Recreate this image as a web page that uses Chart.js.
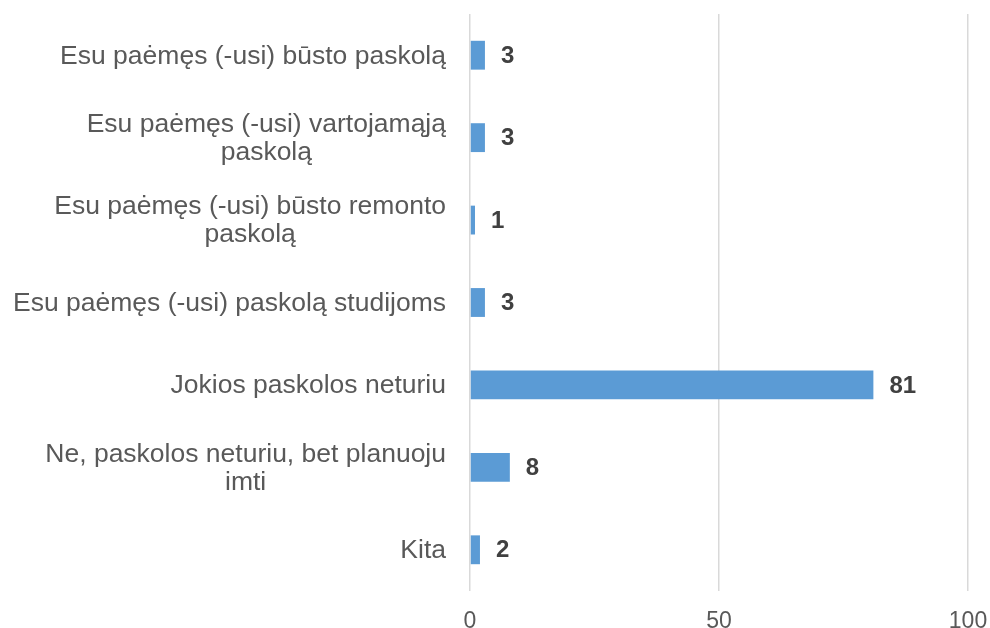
<!DOCTYPE html>
<html>
<head>
<meta charset="utf-8">
<script src="https://cdn.jsdelivr.net/npm/chart.js@4/dist/chart.umd.min.js"></script>
<style>
  html, body { margin: 0; padding: 0; background: #fff; }
  #wrap { width: 990px; height: 628px; }
</style>
</head>
<body>
<div id="wrap"><canvas id="loansChart"></canvas></div>
<script>
// answer categories, each one split into its printed lines
const categories = [
  ['Esu paėmęs (-usi) būsto paskolą'],
  ['Esu paėmęs (-usi) vartojamąją', 'paskolą'],
  ['Esu paėmęs (-usi) būsto remonto', 'paskolą'],
  ['Esu paėmęs (-usi) paskolą studijoms'],
  ['Jokios paskolos neturiu'],
  ['Ne, paskolos neturiu, bet planuoju', 'imti'],
  ['Kita']
];
const shares = [3, 3, 1, 3, 81, 8, 2];
const xTicks = [0, 50, 100];

const labelFont = '26.5px "Liberation Sans", Arial, sans-serif';
const valueFont = 'bold 24px "Liberation Sans", Arial, sans-serif';

// category names: right-aligned block, lines centred inside each block
const categoryLabels = {
  id: 'categoryLabels',
  afterDraw(chart) {
    const ctx = chart.ctx;
    const yScale = chart.scales.y;
    const right = chart.chartArea.left - 24;
    const lineH = 28;
    ctx.save();
    ctx.font = labelFont;
    ctx.fillStyle = '#595959';
    ctx.textAlign = 'center';
    ctx.textBaseline = 'middle';
    categories.forEach((lines, i) => {
      const widest = Math.max(...lines.map(l => ctx.measureText(l).width));
      const cx = right - widest / 2;
      const cy = yScale.getPixelForValue(i) + 1;
      const y0 = cy - (lines.length - 1) * lineH / 2;
      lines.forEach((l, k) => ctx.fillText(l, cx, y0 + k * lineH));
    });
    ctx.restore();
  }
};

// bold value next to the end of each bar
const barValues = {
  id: 'barValues',
  afterDatasetsDraw(chart) {
    const ctx = chart.ctx;
    const meta = chart.getDatasetMeta(0);
    ctx.save();
    ctx.font = valueFont;
    ctx.fillStyle = '#404040';
    ctx.textAlign = 'left';
    ctx.textBaseline = 'middle';
    meta.data.forEach((bar, i) => {
      ctx.fillText(String(shares[i]), bar.x + 16, bar.y + 1);
    });
    ctx.restore();
  }
};

new Chart(document.getElementById('loansChart'), {
  type: 'bar',
  data: {
    labels: categories,
    datasets: [{
      data: shares,
      backgroundColor: '#5b9bd5',
      borderWidth: 0,
      barPercentage: 0.7,
      categoryPercentage: 0.5
    }]
  },
  options: {
    indexAxis: 'y',
    responsive: true,
    maintainAspectRatio: false,
    animation: false,
    layout: { padding: { left: 470, right: 22, top: 14, bottom: 0 } },
    plugins: {
      legend: { display: false },
      tooltip: { enabled: false }
    },
    scales: {
      x: {
        min: 0,
        max: 100,
        afterBuildTicks: (scale) => { scale.ticks = xTicks.map(v => ({ value: v })); },
        afterFit: (scale) => {
          scale.height = 37;
          scale.paddingLeft = 0;
          scale.paddingRight = 0;
        },
        border: { display: false },
        grid: { color: '#d9d9d9', lineWidth: 1.5, drawTicks: false },
        ticks: {
          padding: 17,
          color: '#595959',
          font: { family: '"Liberation Sans", Arial, sans-serif', size: 23 }
        }
      },
      y: {
        display: false
      }
    }
  },
  plugins: [categoryLabels, barValues]
});
</script>
</body>
</html>
